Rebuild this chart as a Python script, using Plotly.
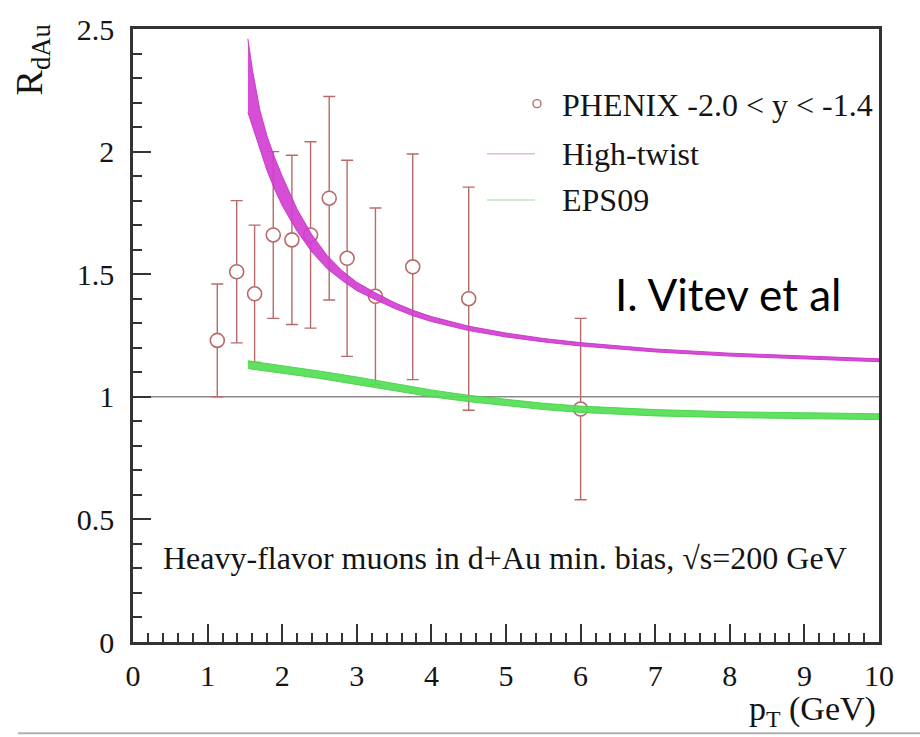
import plotly.graph_objects as go

# PHENIX heavy-flavor muon R_dAu, -2.0 < y < -1.4
pt = [1.13, 1.39, 1.63, 1.88, 2.13, 2.38, 2.63, 2.87, 3.25, 3.75, 4.5, 6.0]
rdau = [1.23, 1.51, 1.42, 1.66, 1.64, 1.66, 1.81, 1.565, 1.41, 1.53, 1.40, 0.95]
rdau_err = [0.23, 0.29, 0.28, 0.34, 0.345, 0.38, 0.415, 0.40, 0.36, 0.46, 0.455, 0.37]

# High-twist calculation band (lower / upper edges)
ht_pt = [1.54, 1.6, 1.7, 1.8, 1.9, 2.0, 2.2, 2.4, 2.6, 2.8, 3.0, 3.25, 3.5, 3.75,
         4.0, 4.5, 5.0, 5.5, 6.0, 7.0, 8.0, 9.0, 10.0]
ht_hi = [2.46, 2.335, 2.17, 2.06, 1.975, 1.90, 1.765, 1.66, 1.577, 1.515, 1.467, 1.424,
         1.385, 1.353, 1.327, 1.288, 1.260, 1.238, 1.221, 1.195, 1.178, 1.165, 1.155]
ht_lo = [2.16, 2.105, 2.01, 1.92, 1.845, 1.78, 1.675, 1.59, 1.523, 1.475, 1.433, 1.396,
         1.361, 1.331, 1.307, 1.270, 1.244, 1.224, 1.207, 1.183, 1.166, 1.153, 1.143]

# EPS09 band (lower / upper edges)
eps_pt = [1.54, 2.0, 2.5, 3.0, 3.5, 4.0, 4.5, 5.0, 5.5, 6.0, 7.0, 8.0, 9.0, 10.0]
eps_hi = [1.147, 1.128, 1.105, 1.081, 1.054, 1.028, 1.006, 0.989, 0.974, 0.962,
          0.948, 0.939, 0.934, 0.931]
eps_lo = [1.115, 1.096, 1.075, 1.051, 1.026, 1.000, 0.980, 0.963, 0.948, 0.936,
          0.922, 0.915, 0.910, 0.907]

x_ticks = [0, 1, 2, 3, 4, 5, 6, 7, 8, 9, 10]
y_ticks = [0, 0.5, 1, 1.5, 2, 2.5]

W, H = 920, 737
L, R, T, B = 133, 41, 18, 95
PW, PH = W - L - R, H - T - B


def px(xp):
    return (xp - L) / PW


def py(yp):
    return (H - B - yp) / PH


SERIF = "Liberation Serif, Times New Roman, serif"
TXT = "#141414"
DATA_COL = "#b86a6a"
HT_COL = "rgba(210,62,210,0.92)"
EPS_COL = "rgba(84,222,84,0.92)"

fig = go.Figure()

fig.add_trace(go.Scatter(
    x=pt, y=rdau, mode="markers",
    error_y=dict(type="data", array=rdau_err, color=DATA_COL, thickness=1.4, width=6),
    marker=dict(symbol="circle", size=14, color="white",
                line=dict(color=DATA_COL, width=1.6)),
    showlegend=False,
))

fig.add_trace(go.Scatter(
    x=ht_pt + ht_pt[::-1], y=ht_hi + ht_lo[::-1],
    mode="lines", fill="toself", fillcolor=HT_COL,
    line=dict(color="rgba(200,50,200,0.9)", width=1),
    showlegend=False, hoverinfo="skip",
))

fig.add_trace(go.Scatter(
    x=eps_pt + eps_pt[::-1], y=eps_hi + eps_lo[::-1],
    mode="lines", fill="toself", fillcolor=EPS_COL,
    line=dict(color="rgba(70,210,70,0.9)", width=1),
    showlegend=False, hoverinfo="skip",
))

shapes = [
    # unity reference line
    dict(type="line", xref="x", yref="y", x0=0, x1=10, y0=1, y1=1,
         line=dict(color="#8a8a8a", width=1.6), layer="below"),
    # legend samples
    dict(type="line", xref="paper", yref="paper", x0=px(487), x1=px(535),
         y0=py(145), y1=py(145), line=dict(color="#e6b4ec", width=1.5)),
    dict(type="line", xref="paper", yref="paper", x0=px(487), x1=px(535),
         y0=py(192), y1=py(192), line=dict(color="#bfe6bf", width=1.5)),
    dict(type="circle", xref="paper", yref="paper", xsizemode="pixel", ysizemode="pixel",
         xanchor=px(537), yanchor=py(94), x0=-4, x1=4, y0=-4, y1=4,
         line=dict(color=DATA_COL, width=1.4), fillcolor="white"),
    # bottom edge of the panel frame
    dict(type="line", xref="paper", yref="paper", x0=px(18), x1=px(920),
         y0=py(735), y1=py(735), line=dict(color="#b0b0b0", width=2)),
]

annotations = [
    dict(text="PHENIX -2.0 &lt; y &lt; -1.4", x=px(560), y=py(95)),
    dict(text="High-twist", x=px(560), y=py(145)),
    dict(text="EPS09", x=px(560), y=py(192)),
    dict(text="Heavy-flavor muons in d+Au min. bias, √s=200 GeV", x=px(161), y=py(557)),
]
annotations = [dict(a, xref="paper", yref="paper", xanchor="left", yanchor="middle",
                    showarrow=False, font=dict(family=SERIF, size=32, color=TXT))
               for a in annotations]
annotations += [
    dict(text="p<sub>T</sub> (GeV)", x=px(878), y=py(712), xref="paper", yref="paper",
         xanchor="right", yanchor="middle", showarrow=False,
         font=dict(family=SERIF, size=34, color=TXT)),
    dict(text="R<sub>dAu</sub>", x=px(32), y=py(50), xref="paper", yref="paper",
         xanchor="center", yanchor="middle", textangle=-90, showarrow=False,
         font=dict(family=SERIF, size=38, color=TXT)),
    dict(text="I. Vitev et al", x=px(613), y=py(288), xref="paper", yref="paper",
         xanchor="left", yanchor="middle", showarrow=False,
         font=dict(family="Lato, Carlito, sans-serif", size=44, color="#000000")),
]

axis_common = dict(
    showgrid=False, zeroline=False, showline=True, linecolor="#333333", linewidth=2.5,
    mirror=True, ticks="inside", tickcolor="#333333", tickwidth=2, ticklen=18,
    tickfont=dict(family=SERIF, size=30, color=TXT),
)

fig.update_xaxes(
    range=[0, 10], tickvals=x_ticks, ticktext=[str(v) for v in x_ticks],
    minor=dict(dtick=0.2, ticks="inside", ticklen=9, tickwidth=1.5, tickcolor="#333333"),
    ticklabelstandoff=5, **axis_common,
)
fig.update_yaxes(
    range=[0, 2.5], tickvals=y_ticks, ticktext=[f"{v:g}" for v in y_ticks],
    minor=dict(dtick=0.1, ticks="inside", ticklen=9, tickwidth=1.5, tickcolor="#333333"),
    ticklabelstandoff=10, **axis_common,
)

fig.update_layout(
    width=W, height=H,
    margin=dict(l=L, r=R, t=T, b=B),
    paper_bgcolor="white", plot_bgcolor="white",
    shapes=shapes, annotations=annotations,
    showlegend=False,
)

fig.write_html("out.html")
